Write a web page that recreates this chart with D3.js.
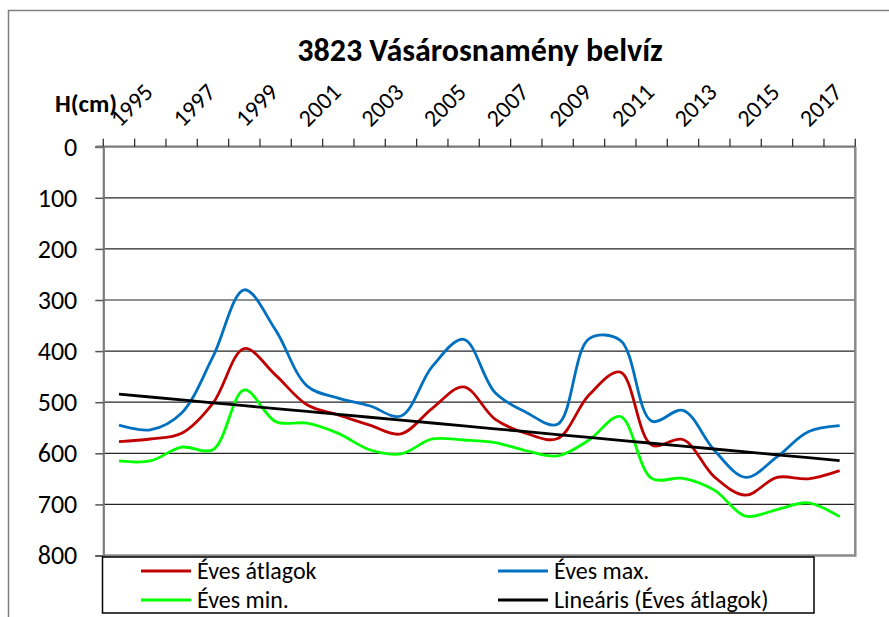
<!DOCTYPE html>
<html>
<head>
<meta charset="utf-8">
<script src="https://cdn.jsdelivr.net/npm/d3@7"></script>
<style>
  body { margin: 0; background: #fff; }
  text { font-family: Carlito, Lato, "Open Sans", sans-serif; fill: #000; }
</style>
</head>
<body>
<div id="container"></div>
<script>
let years = [1995, 1996, 1997, 1998, 1999, 2000, 2001, 2002, 2003, 2004, 2005, 2006,
             2007, 2008, 2009, 2010, 2011, 2012, 2013, 2014, 2015, 2016, 2017, 2018];
let yearLabels = [1995, 1997, 1999, 2001, 2003, 2005, 2007, 2009, 2011, 2013, 2015, 2017];
let avgValues = [577, 572, 561, 502, 395, 447, 505, 525, 545, 562, 512, 470,
                 533, 561, 571, 486, 441, 584, 573, 646, 682, 647, 650, 634];
let maxValues = [545, 554, 521, 411, 280, 359, 468, 492, 507, 527, 430, 377,
                 481, 520, 543, 376, 379, 537, 516, 594, 647, 607, 558, 546];
let minValues = [615, 615, 588, 593, 476, 538, 541, 561, 593, 601, 572, 574,
                 579, 595, 605, 574, 528, 649, 649, 672, 723, 710, 697, 724];
let yTicks = [0, 100, 200, 300, 400, 500, 600, 700, 800];
let seriesNames = ["Éves átlagok", "Éves max.", "Éves min.", "Lineáris (Éves átlagok)"];
let colors = ["#C00000", "#0070C0", "#00FF00", "#000000"];

let svg = d3.select("#container")
    .append("svg")
    .attr("width", 889)
    .attr("height", 617);

// outer chart border
svg.append("rect")
    .attr("x", 8.5).attr("y", 10.5)
    .attr("width", 900).attr("height", 700)
    .attr("fill", "none")
    .attr("stroke", "#7f7f7f")
    .attr("stroke-width", 1.5);

let x = d3.scaleBand().domain(years).range([103.3, 855.3]);
let y = d3.scaleLinear().domain([0, 800]).range([146.7, 555.5]);
let cx = d => x(d) + x.bandwidth() / 2;

// gridlines
svg.append("g")
    .selectAll("line")
    .data(yTicks.filter(d => d > 0 && d < 800))
    .enter()
    .append("line")
    .attr("x1", 103.3).attr("x2", 855.3)
    .attr("y1", d => y(d)).attr("y2", d => y(d))
    .attr("stroke", "#262626")
    .attr("stroke-width", 1.2);

// plot area right / bottom border
svg.append("path")
    .attr("d", `M${x.range()[1]},${y(0)}V${y(800)}H${x.range()[0]}`)
    .attr("fill", "none")
    .attr("stroke", "#8a8a8a")
    .attr("stroke-width", 2.5);

// left axis
let yAxis = svg.append("g")
    .attr("transform", "translate(103.3,0)")
    .call(d3.axisLeft(y).tickValues(yTicks).tickSize(8).tickPadding(18));
yAxis.select(".domain").attr("stroke", "#7a7a7a").attr("stroke-width", 2.2);
yAxis.selectAll(".tick line").attr("stroke", "#555").attr("stroke-width", 1.5);
yAxis.selectAll(".tick text")
    .attr("style", "font-size:26px")
    .attr("font-family", null);

// top axis (ticks on band boundaries)
let bounds = years.map(d => x(d)).concat([x.range()[1]]);
svg.append("line")
    .attr("x1", 96).attr("x2", 855.3)
    .attr("y1", y(0)).attr("y2", y(0))
    .attr("stroke", "#7a7a7a")
    .attr("stroke-width", 2.2);
svg.append("g")
    .selectAll("line")
    .data(bounds)
    .enter()
    .append("line")
    .attr("x1", d => d).attr("x2", d => d)
    .attr("y1", y(0)).attr("y2", y(0) - 8)
    .attr("stroke", "#333")
    .attr("stroke-width", 1.3);
svg.append("g")
    .selectAll("text")
    .data(yearLabels)
    .enter()
    .append("text")
    .attr("transform", d => "translate(" + (cx(d) + 1) + ",128) rotate(-45)")
    .attr("style", "font-size:24px")
    .text(d => d);

// trend line from linear regression of the yearly averages
let n = avgValues.length;
let mi = (n - 1) / 2;
let my = d3.mean(avgValues);
let slope = d3.sum(avgValues, (v, i) => (i - mi) * (v - my)) / d3.sum(avgValues, (v, i) => (i - mi) * (i - mi));
let trend = years.map((d, i) => my + slope * (i - mi));

let line = d3.line()
    .x((v, i) => cx(years[i]))
    .y(v => y(v))
    .curve(d3.curveCatmullRom.alpha(0.5));

let series = [avgValues, maxValues, minValues];
svg.append("g")
    .selectAll("path")
    .data(series)
    .enter()
    .append("path")
    .attr("d", d => line(d))
    .attr("fill", "none")
    .attr("stroke", (_, i) => colors[i])
    .attr("stroke-width", 2.8);

svg.append("path")
    .attr("d", d3.line().x((v, i) => cx(years[i])).y(v => y(v))(trend))
    .attr("fill", "none")
    .attr("stroke", colors[3])
    .attr("stroke-width", 2.8);

// title
svg.append("text")
    .attr("x", 480).attr("y", 61)
    .attr("text-anchor", "middle")
    .attr("style", "font-size:32px;font-weight:bold")
    .text("3823 Vásárosnamény belvíz");

svg.append("text")
    .attr("x", 55).attr("y", 112)
    .attr("style", "font-size:25px;font-weight:bold")
    .text("H(cm)");

// legend
let legend = svg.append("g");
legend.append("rect")
    .attr("x", 102.5).attr("y", 557)
    .attr("width", 711.5).attr("height", 56)
    .attr("fill", "#fff")
    .attr("stroke", "#000")
    .attr("stroke-width", 1.5);
let legPos = [[141, 571], [498, 571], [141, 600], [498, 600]];
let order = [0, 1, 2, 3];
let items = legend.selectAll("g.item")
    .data(order)
    .enter()
    .append("g")
    .attr("class", "item")
    .attr("transform", (d, i) => "translate(" + legPos[i][0] + "," + legPos[i][1] + ")");
items.append("line")
    .attr("x1", 0).attr("x2", 50)
    .attr("stroke", d => colors[d])
    .attr("stroke-width", 2.8);
items.append("text")
    .attr("x", 56)
    .attr("dy", "0.35em")
    .attr("style", "font-size:24px")
    .text(d => seriesNames[d]);
</script>
</body>
</html>
